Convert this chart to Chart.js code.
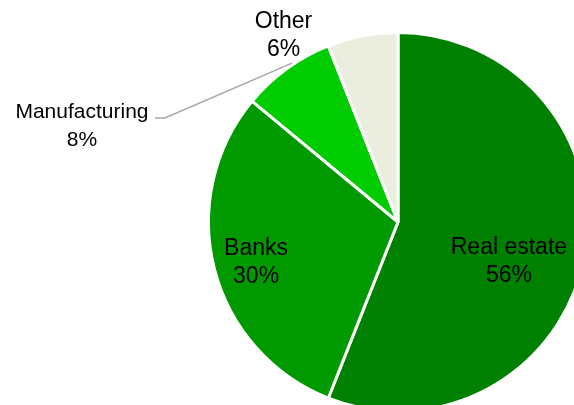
<!DOCTYPE html>
<html>
<head>
<meta charset="utf-8">
<script src="https://cdn.jsdelivr.net/npm/chart.js@4/dist/chart.umd.min.js"></script>
<style>
  html, body { margin: 0; padding: 0; background: #ffffff; overflow: hidden; }
  body { width: 574px; height: 405px; position: relative; }
  #wrap { position: absolute; left: 0; top: 0; width: 796px; height: 444px; }
</style>
</head>
<body>
<div id="wrap"><canvas id="chart" width="796" height="444"></canvas></div>
<script>
// Loan book breakdown by sector (percent of total)
const sectors = ['Real estate', 'Banks', 'Manufacturing', 'Other'];
const shares = [56, 30, 8, 6];
const sliceColors = ['#008000', '#009900', '#00CC00', '#EBEEDF'];

// Label anchors relative to the pie centre, in units of the radius
// (x = text centre, y = first baseline)
const labelAnchors = [
  { dx: 0.590, dy: 0.170, size: 23 },
  { dx: -0.755, dy: 0.176, size: 23 },
  { dx: -1.681, dy: -0.553, size: 21, leader: true },
  { dx: -0.609, dy: -1.032, size: 23 }
];

const sliceLabels = {
  id: 'sliceLabels',
  afterDatasetsDraw(chart) {
    const ctx = chart.ctx;
    const meta = chart.getDatasetMeta(0);
    const arcs = meta.data;
    if (!arcs.length) return;
    const cx = arcs[0].x, cy = arcs[0].y;
    const R = arcs[0].outerRadius - 1.5;
    ctx.save();
    arcs.forEach((arc, i) => {
      const a = labelAnchors[i];
      const x = cx + a.dx * R;
      const y = cy + a.dy * R;
      if (a.leader) {
        const ang = arc.startAngle + 0.58 * (arc.endAngle - arc.startAngle);
        const ex = cx + Math.cos(ang) * (R + 3);
        const ey = cy + Math.sin(ang) * (R + 3);
        ctx.strokeStyle = '#A6A6A6';
        ctx.lineWidth = 1.5;
        ctx.beginPath();
        ctx.moveTo(x + 73, y);
        ctx.lineTo(x + 83, y);
        ctx.lineTo(ex, ey);
        ctx.stroke();
      }
      ctx.fillStyle = '#000000';
      ctx.font = a.size + 'px "Liberation Sans", Arial, sans-serif';
      ctx.textAlign = 'center';
      ctx.textBaseline = 'alphabetic';
      ctx.fillText(sectors[i], x, y);
      ctx.fillText(shares[i] + '%', x, y + 28);
    });
    ctx.restore();
  }
};

new Chart(document.getElementById('chart'), {
  type: 'pie',
  data: {
    labels: sectors,
    datasets: [{
      data: shares,
      backgroundColor: sliceColors,
      borderColor: '#ffffff',
      borderWidth: 3,
      radius: 189.5
    }]
  },
  options: {
    responsive: false,
    animation: false,
    layout: { padding: 0 },
    plugins: {
      legend: { display: false },
      tooltip: { enabled: false },
      title: { display: false }
    }
  },
  plugins: [sliceLabels]
});
</script>
</body>
</html>
